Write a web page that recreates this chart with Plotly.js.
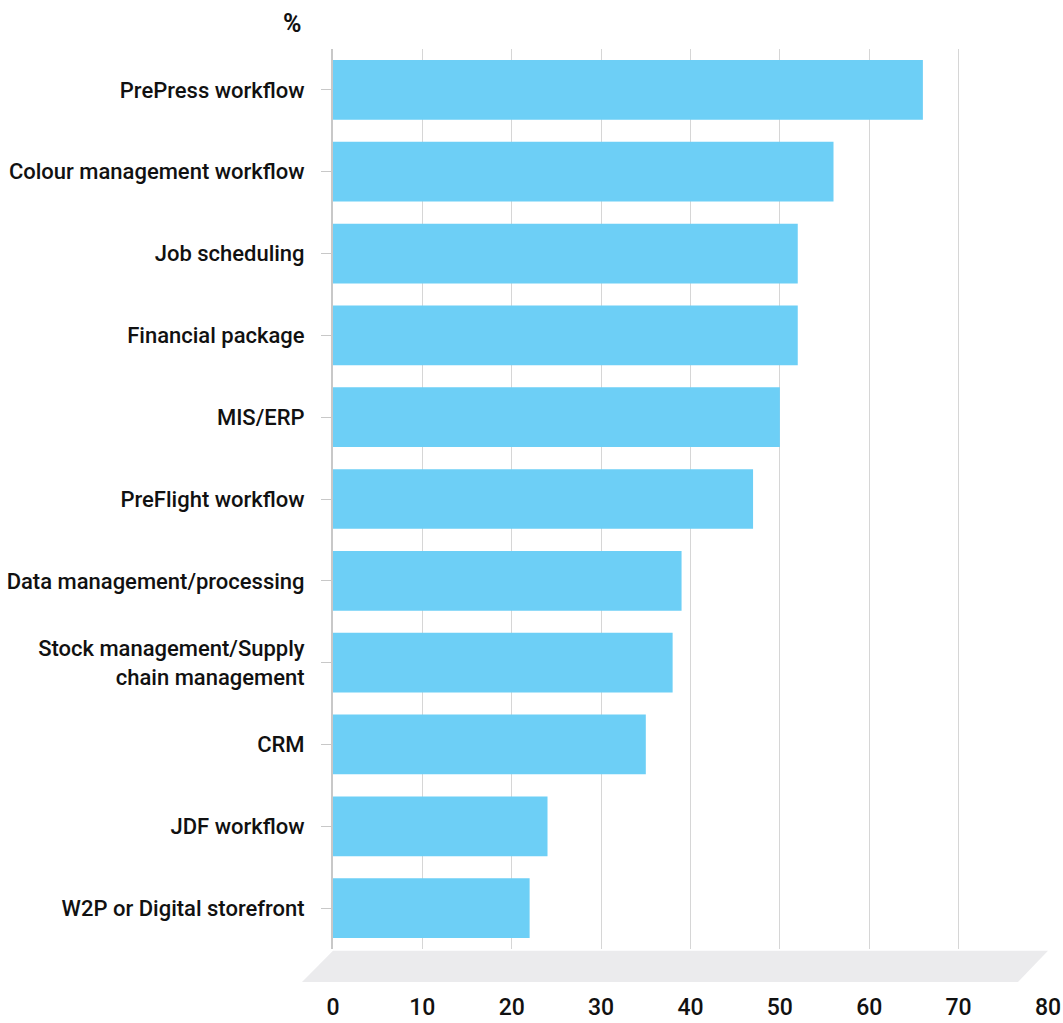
<!DOCTYPE html>
<html>
<head>
<meta charset="utf-8">
<script src="https://cdn.plot.ly/plotly-3.0.1.min.js"></script>
<style>html,body{margin:0;padding:0;background:#fff;}#chart{width:1063px;height:1023px;}</style>
</head>
<body>
<div id="chart"></div>
<script>
const categories = [
  "PrePress workflow",
  "Colour management workflow",
  "Job scheduling",
  "Financial package",
  "MIS/ERP",
  "PreFlight workflow",
  "Data management/processing",
  "Stock management/Supply<br>chain management",
  "CRM",
  "JDF workflow",
  "W2P or Digital storefront"
];
const values = [66, 56, 52, 52, 50, 47, 39, 38, 35, 24, 22];
const xTicks = [0, 10, 20, 30, 40, 50, 60, 70, 80];

const trace = {
  type: 'bar',
  orientation: 'h',
  x: values,
  y: categories,
  marker: {color: '#6dcff6'},
  hoverinfo: 'x+y'
};

const layout = {
  width: 1063,
  height: 1023,
  margin: {l: 333, r: 15, t: 49, b: 74},
  paper_bgcolor: '#ffffff',
  plot_bgcolor: '#ffffff',
  bargap: 0.27,
  showlegend: false,
  font: {family: 'Roboto, sans-serif', color: '#111111'},
  xaxis: {
    range: [0, 80],
    tickvals: xTicks,
    ticktext: xTicks.map(String),
    showgrid: true,
    gridcolor: '#d6d6d6',
    gridwidth: 1,
    zeroline: false,
    showline: false,
    ticks: 'outside',
    ticklen: 37,
    tickcolor: 'rgba(0,0,0,0)',
    tickfont: {size: 23, family: 'Roboto, sans-serif', weight: 500, color: '#111111'},
    fixedrange: true
  },
  yaxis: {
    autorange: 'reversed',
    categoryorder: 'array',
    categoryarray: categories,
    showgrid: false,
    zeroline: false,
    showline: true,
    linecolor: '#c8c8c8',
    linewidth: 2,
    ticks: 'outside',
    ticklen: 10,
    tickwidth: 1,
    tickcolor: '#c8c8c8',
    ticklabelstandoff: 12,
    tickfont: {size: 22, family: 'Roboto, sans-serif', weight: 500, color: '#111111'},
    fixedrange: true
  },
  shapes: [{
    type: 'path',
    xref: 'paper', yref: 'paper',
    path: 'M 0 -0.002 L 1 -0.002 L 0.958 -0.0367 L -0.0434 -0.0367 Z',
    fillcolor: '#ebebed',
    line: {width: 0},
    layer: 'below'
  }],
  annotations: [{
    text: '%',
    xref: 'paper', yref: 'paper',
    x: -0.057, y: 1.028,
    xanchor: 'center', yanchor: 'middle',
    showarrow: false,
    font: {size: 25, family: 'Roboto, sans-serif', weight: 700, color: '#111111'}
  }]
};

Plotly.newPlot('chart', [trace], layout, {displayModeBar: false, staticPlot: true});
</script>
</body>
</html>
